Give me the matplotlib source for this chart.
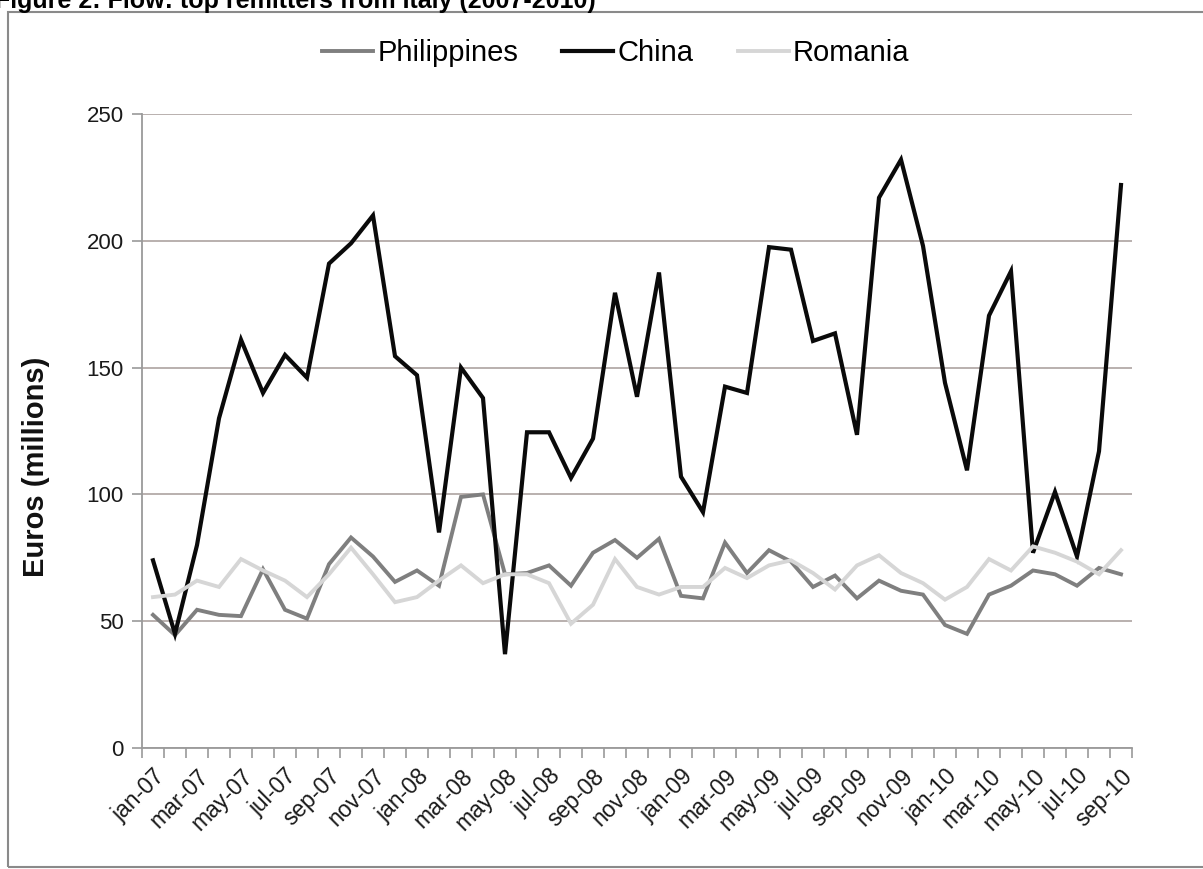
import numpy as np
import matplotlib
matplotlib.use("Agg")
import matplotlib.pyplot as plt
from matplotlib.patches import Rectangle

plt.rcParams['font.family'] = ['Liberation Sans', 'DejaVu Sans']

# monthly flows, jan-07 .. sep-10 (millions of euros)
philippines = [52.5, 44.5, 54.5, 52.5, 52, 70.5, 54.5, 51, 72.5, 83, 75.5, 65.5,
               70, 64, 99, 100, 68.5, 69, 72, 64, 77, 82, 75, 82.5,
               60, 59, 81, 69, 78, 73.5, 63.5, 68, 59, 66, 62, 60.5,
               48.5, 45, 60.5, 64, 70, 68.5, 64, 71, 68.5]
china = [74, 45, 80, 130, 161, 140, 155, 146, 191, 199, 210, 154.5,
         147, 85, 150, 138, 37, 124.5, 124.5, 106.5, 122, 179.5, 138.5, 187.5,
         107, 93, 142.5, 140, 197.5, 196.5, 160.5, 163.5, 123.5, 217, 232, 198,
         144, 109.5, 170.5, 188, 77, 101, 75.5, 117, 222]
romania = [59.5, 60.5, 66, 63.5, 74.5, 70, 66, 59.5, 68.5, 79, 68.5, 57.5,
           59.5, 66, 72, 65, 68.5, 68.5, 65, 49, 56.5, 74.5, 63.5, 60.5,
           63.5, 63.5, 71, 67, 72, 74, 69, 62.5, 72, 76, 69, 65,
           58.5, 63.5, 74.5, 70, 79.5, 77, 73.5, 68.5, 78]

tick_labels = ['jan-07', 'mar-07', 'may-07', 'jul-07', 'sep-07', 'nov-07',
               'jan-08', 'mar-08', 'may-08', 'jul-08', 'sep-08', 'nov-08',
               'jan-09', 'mar-09', 'may-09', 'jul-09', 'sep-09', 'nov-09',
               'jan-10', 'mar-10', 'may-10', 'jul-10', 'sep-10']

x = np.arange(len(china))

fig = plt.figure(figsize=(12.03, 8.69), dpi=100)
ax = fig.add_axes([142 / 1203, 1 - 748 / 869, 990 / 1203, 634 / 869])

ax.plot(x, philippines, color='#7f7f7f', lw=2.8, label='Philippines', solid_joinstyle='miter')
ax.plot(x, china, color='#0a0a0a', lw=3.0, label='China', solid_joinstyle='miter')
ax.plot(x, romania, color='#d6d6d6', lw=2.8, label='Romania', solid_joinstyle='miter')

ax.set_xlim(-0.5, len(x) - 0.5)
ax.set_ylim(0, 250)
ax.set_yticks(np.arange(0, 251, 50))
ax.yaxis.grid(True, color='#b3aaa8', lw=1.3)
ax.set_axisbelow(True)

# category boundaries as ticks, labels every second month
ax.set_xticks(np.arange(-0.5, len(x), 1.0))
ax.set_xticklabels([])
ax.set_xticks(x[::2], minor=True)
ax.set_xticklabels(tick_labels, minor=True, rotation=45, ha='right', va='top',
                   rotation_mode='anchor', fontsize=16.5, color='#1a1a1a')
ax.tick_params(axis='x', which='minor', length=0, pad=12)
ax.tick_params(axis='x', which='major', length=7, color='#9a9a9a', width=1.2)
ax.tick_params(axis='y', length=7, color='#9a9a9a', width=1.2, labelsize=16,
               labelcolor='#1a1a1a', pad=6)

for s in ['top', 'right']:
    ax.spines[s].set_visible(False)
for s in ['left', 'bottom']:
    ax.spines[s].set_color('#9a9a9a')
    ax.spines[s].set_linewidth(1.3)

ax.set_ylabel('Euros (millions)', fontsize=21, fontweight='bold', color='#111111')
ax.yaxis.set_label_coords(-0.093, 0.443)

fig.legend(loc='center', bbox_to_anchor=(0.512, 0.939), ncol=3, frameon=False,
           fontsize=21, handlelength=1.75, handletextpad=0.15, columnspacing=1.5)

# chart border and clipped caption
fig.patches.append(Rectangle((8 / 1203, 2 / 869), 1.2, 1 - 14 / 869, transform=fig.transFigure,
                             fill=False, edgecolor='#8a8a8a', lw=1.5, clip_on=False))
fig.text(-0.004, 1 - 8 / 869, 'Figure 2: Flow: top remitters from Italy (2007-2010)',
         fontsize=18, fontweight='bold', va='baseline', ha='left')

fig.savefig('out.png', dpi=100)
